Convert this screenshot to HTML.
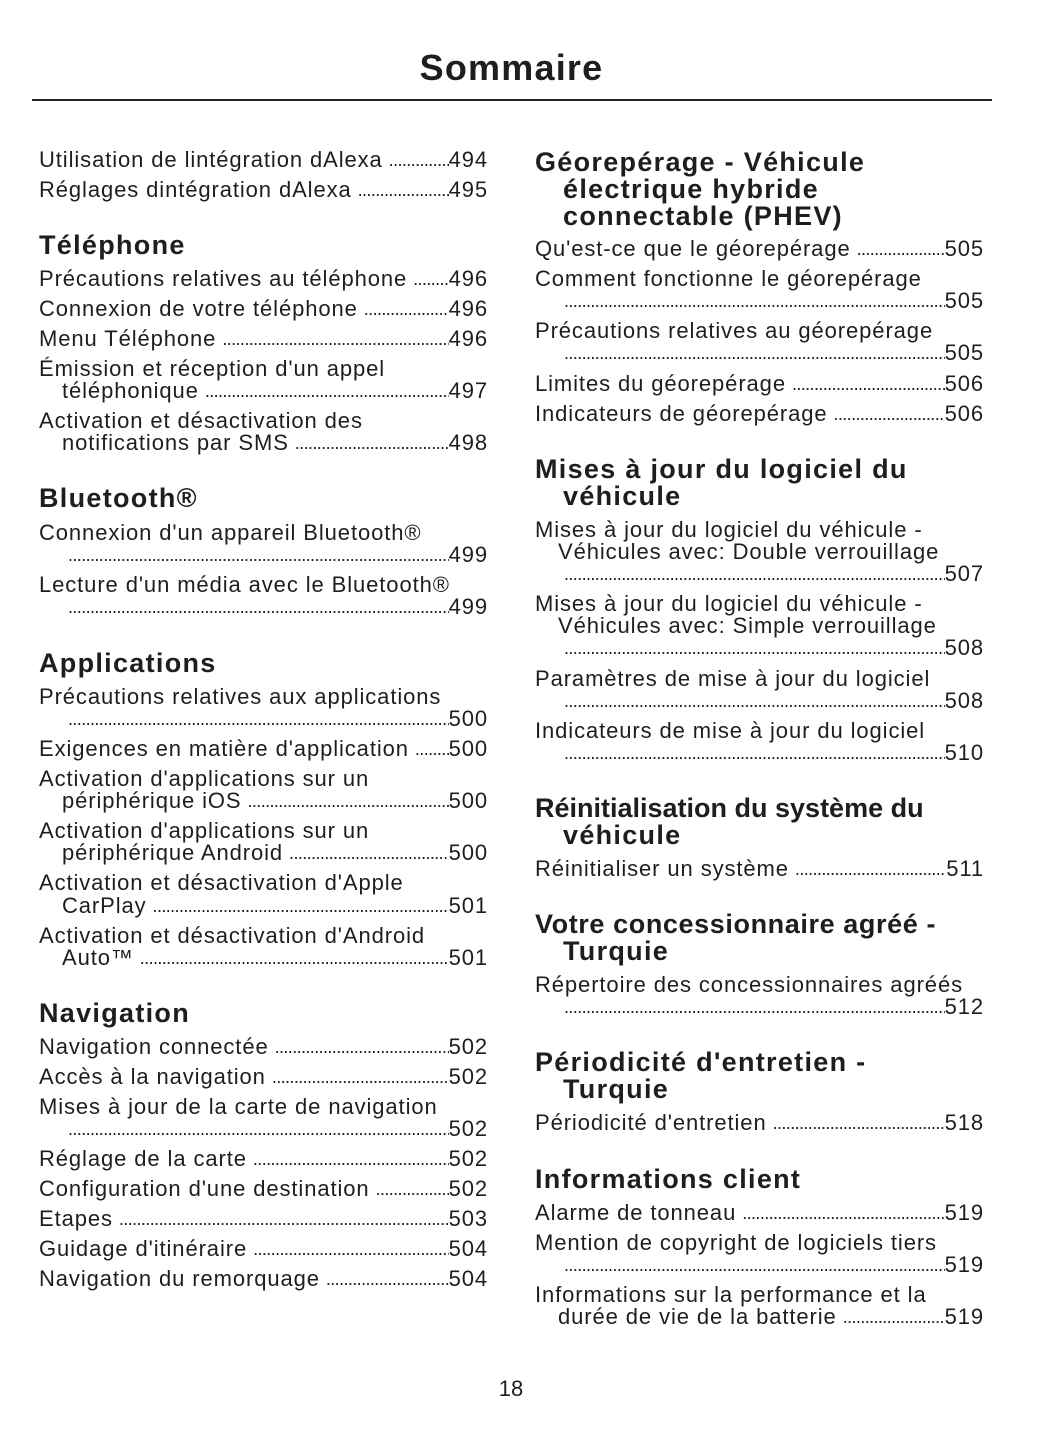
<!DOCTYPE html>
<html><head><meta charset="utf-8"><style>
body{margin:0;width:1055px;height:1448px;background:#fff;position:relative;font-family:"Liberation Sans",sans-serif;color:#1e1e1e;overflow:hidden}
.t{position:absolute;top:44px;left:0;width:1023px;text-align:center;font-size:36px;font-weight:bold;line-height:48px;letter-spacing:1.2px}
.hr{position:absolute;top:99px;left:32px;width:960px;height:1.5px;background:#222}
.l,.r{position:absolute;height:30px;line-height:30px;font-size:22px;display:flex;white-space:nowrap;letter-spacing:0.9px}
.l{left:39px;width:449px}.r{left:535px;width:449px}
.i{padding-left:23px}
.d{flex:1;overflow:hidden;font-size:18px;letter-spacing:-0.6px;padding:0 2px 0 6px;text-align:left}
.d::before{content:"......................................................................................................................................................................................"}
.h{position:absolute;font-size:27px;font-weight:bold;line-height:30px;white-space:nowrap;letter-spacing:1.3px}
.hl{left:39px}.hr2{left:535px}
.hi{padding-left:28px}
.pg{position:absolute;top:1376px;left:0;width:1022px;text-align:center;font-size:22px}
</style></head><body>
<div class="t">Sommaire</div>
<div class="hr"></div>

<div class="l" style="top:145px"><span>Utilisation de lintégration dAlexa</span><span class="d"></span><span>494</span></div>
<div class="l" style="top:175px"><span>Réglages dintégration dAlexa</span><span class="d"></span><span>495</span></div>
<div class="h hl" style="top:230px">Téléphone</div>
<div class="l" style="top:264px"><span>Précautions relatives au téléphone</span><span class="d"></span><span>496</span></div>
<div class="l" style="top:294px"><span>Connexion de votre téléphone</span><span class="d"></span><span>496</span></div>
<div class="l" style="top:324px"><span>Menu Téléphone</span><span class="d"></span><span>496</span></div>
<div class="l" style="top:354px"><span>Émission et réception d'un appel</span></div>
<div class="l i" style="top:376px;width:426px"><span>téléphonique</span><span class="d"></span><span>497</span></div>
<div class="l" style="top:406px"><span>Activation et désactivation des</span></div>
<div class="l i" style="top:428px;width:426px"><span>notifications par SMS</span><span class="d"></span><span>498</span></div>
<div class="h hl" style="top:483px">Bluetooth®</div>
<div class="l" style="top:518px"><span>Connexion d'un appareil Bluetooth®</span></div>
<div class="l i" style="top:540px;width:426px"><span class="d"></span><span>499</span></div>
<div class="l" style="top:570px"><span>Lecture d'un média avec le Bluetooth®</span></div>
<div class="l i" style="top:592px;width:426px"><span class="d"></span><span>499</span></div>
<div class="h hl" style="top:648px">Applications</div>
<div class="l" style="top:682px"><span>Précautions relatives aux applications</span></div>
<div class="l i" style="top:704px;width:426px"><span class="d"></span><span>500</span></div>
<div class="l" style="top:734px"><span>Exigences en matière d'application</span><span class="d"></span><span>500</span></div>
<div class="l" style="top:764px"><span>Activation d'applications sur un</span></div>
<div class="l i" style="top:786px;width:426px"><span>périphérique iOS</span><span class="d"></span><span>500</span></div>
<div class="l" style="top:816px"><span>Activation d'applications sur un</span></div>
<div class="l i" style="top:838px;width:426px"><span>périphérique Android</span><span class="d"></span><span>500</span></div>
<div class="l" style="top:868px"><span>Activation et désactivation d'Apple</span></div>
<div class="l i" style="top:891px;width:426px"><span>CarPlay</span><span class="d"></span><span>501</span></div>
<div class="l" style="top:921px"><span>Activation et désactivation d'Android</span></div>
<div class="l i" style="top:943px;width:426px"><span>Auto™</span><span class="d"></span><span>501</span></div>
<div class="h hl" style="top:998px">Navigation</div>
<div class="l" style="top:1032px"><span>Navigation connectée</span><span class="d"></span><span>502</span></div>
<div class="l" style="top:1062px"><span>Accès à la navigation</span><span class="d"></span><span>502</span></div>
<div class="l" style="top:1092px"><span>Mises à jour de la carte de navigation</span></div>
<div class="l i" style="top:1114px;width:426px"><span class="d"></span><span>502</span></div>
<div class="l" style="top:1144px"><span>Réglage de la carte</span><span class="d"></span><span>502</span></div>
<div class="l" style="top:1174px"><span>Configuration d'une destination</span><span class="d"></span><span>502</span></div>
<div class="l" style="top:1204px"><span>Etapes</span><span class="d"></span><span>503</span></div>
<div class="l" style="top:1234px"><span>Guidage d'itinéraire</span><span class="d"></span><span>504</span></div>
<div class="l" style="top:1264px"><span>Navigation du remorquage</span><span class="d"></span><span>504</span></div>

<div class="h hr2" style="top:147px">Géorepérage - Véhicule</div>
<div class="h hr2 hi" style="top:174px">électrique hybride</div>
<div class="h hr2 hi" style="top:201px">connectable (PHEV)</div>
<div class="r" style="top:234px"><span>Qu'est-ce que le géorepérage</span><span class="d"></span><span>505</span></div>
<div class="r" style="top:264px"><span>Comment fonctionne le géorepérage</span></div>
<div class="r i" style="top:286px;width:426px"><span class="d"></span><span>505</span></div>
<div class="r" style="top:316px"><span>Précautions relatives au géorepérage</span></div>
<div class="r i" style="top:338px;width:426px"><span class="d"></span><span>505</span></div>
<div class="r" style="top:369px"><span>Limites du géorepérage</span><span class="d"></span><span>506</span></div>
<div class="r" style="top:399px"><span>Indicateurs de géorepérage</span><span class="d"></span><span>506</span></div>
<div class="h hr2" style="top:454px">Mises à jour du logiciel du</div>
<div class="h hr2 hi" style="top:481px">véhicule</div>
<div class="r" style="top:515px"><span>Mises à jour du logiciel du véhicule -</span></div>
<div class="r i" style="top:537px;width:426px"><span>Véhicules avec: Double verrouillage</span></div>
<div class="r i" style="top:559px;width:426px"><span class="d"></span><span>507</span></div>
<div class="r" style="top:589px"><span>Mises à jour du logiciel du véhicule -</span></div>
<div class="r i" style="top:611px;width:426px"><span>Véhicules avec: Simple verrouillage</span></div>
<div class="r i" style="top:633px;width:426px"><span class="d"></span><span>508</span></div>
<div class="r" style="top:664px"><span>Paramètres de mise à jour du logiciel</span></div>
<div class="r i" style="top:686px;width:426px"><span class="d"></span><span>508</span></div>
<div class="r" style="top:716px"><span>Indicateurs de mise à jour du logiciel</span></div>
<div class="r i" style="top:738px;width:426px"><span class="d"></span><span>510</span></div>
<div class="h hr2" style="top:793px;letter-spacing:0px">Réinitialisation du système du</div>
<div class="h hr2 hi" style="top:820px">véhicule</div>
<div class="r" style="top:854px"><span>Réinitialiser un système</span><span class="d"></span><span>511</span></div>
<div class="h hr2" style="top:909px;letter-spacing:0.6px">Votre concessionnaire agréé -</div>
<div class="h hr2 hi" style="top:936px">Turquie</div>
<div class="r" style="top:970px"><span>Répertoire des concessionnaires agréés</span></div>
<div class="r i" style="top:992px;width:426px"><span class="d"></span><span>512</span></div>
<div class="h hr2" style="top:1047px">Périodicité d'entretien -</div>
<div class="h hr2 hi" style="top:1074px">Turquie</div>
<div class="r" style="top:1108px"><span>Périodicité d'entretien</span><span class="d"></span><span>518</span></div>
<div class="h hr2" style="top:1164px">Informations client</div>
<div class="r" style="top:1198px"><span>Alarme de tonneau</span><span class="d"></span><span>519</span></div>
<div class="r" style="top:1228px"><span>Mention de copyright de logiciels tiers</span></div>
<div class="r i" style="top:1250px;width:426px"><span class="d"></span><span>519</span></div>
<div class="r" style="top:1280px"><span>Informations sur la performance et la</span></div>
<div class="r i" style="top:1302px;width:426px"><span>durée de vie de la batterie</span><span class="d"></span><span>519</span></div>

<div class="pg">18</div>
</body></html>
